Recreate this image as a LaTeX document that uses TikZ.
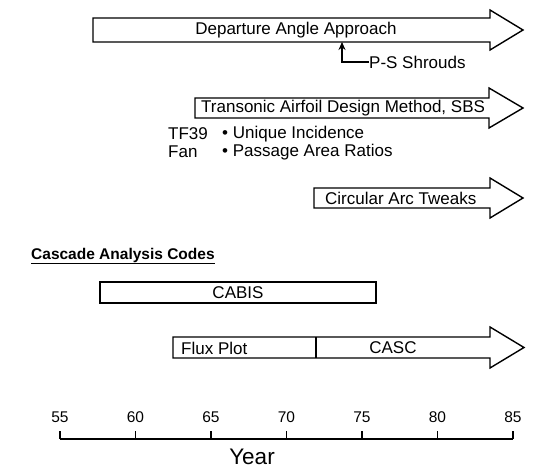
\documentclass[tikz,border=0pt]{standalone}
\usepackage{fontspec}
\setmainfont{Liberation Sans}
\usetikzlibrary{arrows.meta}
\begin{document}
\begin{tikzpicture}[x=1pt,y=-1pt,
  lbl/.style={font=\fontsize{17}{19}\selectfont, inner sep=0pt},
  ticklbl/.style={font=\fontsize{15.5}{17}\selectfont, inner sep=0pt},
  bigarrow/.style={draw=black, line width=1.4pt, line join=miter, fill=white},
  plainbox/.style={draw=black, line width=1.4pt},
  axisline/.style={draw=black, line width=1.2pt},
  pointer/.style={draw=black, line width=1.2pt, -{Stealth[length=8pt,width=7pt]}}]
\useasboundingbox (0,0) rectangle (542,470);

% Departure Angle Approach
\draw[bigarrow] (93,18) -- (490,18) -- (490,10) -- (523,30) -- (490,50) -- (490,42) -- (93,42) -- cycle;
\node[lbl] (dep) at (296,30) {Departure Angle Approach};
\node[lbl, anchor=west] (ps) at (369,62) {P-S Shrouds};
\coordinate (psend) at (342,42);
\draw[pointer] (ps.west) -| (psend);

% Transonic
\draw[bigarrow] (195,98) -- (489,98) -- (489,88) -- (523,108) -- (489,128) -- (489,118) -- (195,118) -- cycle;
\node[lbl, anchor=west] (tr) at (201,108) {Transonic Airfoil Design Method, SBS};
\node[lbl, anchor=west] (tf) at (168,134) {TF39};
\node[lbl, anchor=west] (fan) at (168,152) {Fan};
\node[lbl, anchor=west] (ui) at (222,134) {• Unique Incidence};
\node[lbl, anchor=west] (pa) at (222,152) {• Passage Area Ratios};

% Circular Arc Tweaks
\draw[bigarrow] (314,188) -- (490,188) -- (490,178) -- (523,198) -- (490,218) -- (490,208) -- (314,208) -- cycle;
\node[lbl, anchor=west] (cat) at (325,198) {Circular Arc Tweaks};

% Cascade Analysis Codes
\node[anchor=west, inner sep=0pt, font=\fontsize{15.5}{18}\selectfont\bfseries] (cac) at (31,256) {\underline{Cascade Analysis Codes}};
\draw[plainbox] (100,282) rectangle (376,303);
\node[lbl] (cabis) at (238,292.5) {CABIS};

\draw[bigarrow] (173,337) -- (490,337) -- (490,327) -- (524,347.5) -- (490,368) -- (490,358) -- (173,358) -- cycle;
\draw[plainbox] (316,337) -- (316,358);
\node[lbl, anchor=west] (flux) at (181,348) {Flux Plot};
\node[lbl] (casc) at (393,348) {CASC};

% Axis
\foreach \yr in {55,60,...,85} {
  \coordinate (t\yr) at ({60+(\yr-55)*15.1},439);
  \draw[axisline] (t\yr) -- ++(0,-8);
  \node[ticklbl] (l\yr) at ({60+(\yr-55)*15.1},417) {\yr};
}
\draw[axisline] (t55) -- (t85);
\node[font=\fontsize{22.5}{24}\selectfont, inner sep=0pt] (year) at (252,457) {Year};
\end{tikzpicture}
\end{document}
